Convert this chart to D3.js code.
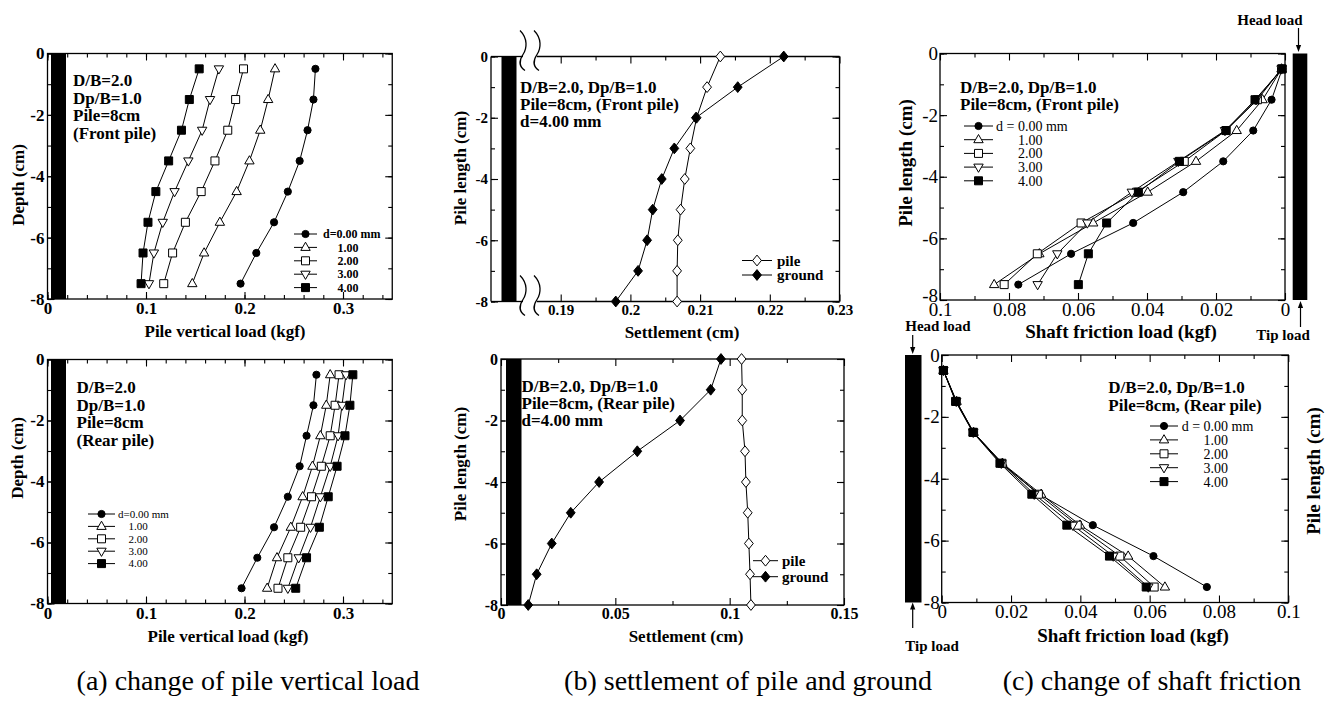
<!DOCTYPE html>
<html>
<head>
<meta charset="utf-8">
<script src="https://cdn.jsdelivr.net/npm/d3@7"></script>
<style>
  body { margin: 0; background: #fff; }
  svg { display: block; }
</style>
</head>
<body>
<svg id="fig" width="1330" height="704"></svg>
<script>
// ---------------- data ----------------
// measuring stations along the pile (cm)
const midDepths  = [-0.5, -1.5, -2.5, -3.5, -4.5, -5.5, -6.5, -7.5];
const nodeDepths = [0, -1, -2, -3, -4, -5, -6, -7, -8];
const pileTop = 0, pileTip = -8;

// lateral ground displacement d (mm) and marker used for each
const shiftLabels = ["0.00", "1.00", "2.00", "3.00", "4.00"];
const shiftMarkers = ["circle", "triangle", "square", "triangleDown", "squareFill"];

// (a) pile vertical load (kgf)
const frontLoad = [
  [0.272, 0.270, 0.264, 0.256, 0.244, 0.230, 0.212, 0.196],
  [0.231, 0.224, 0.216, 0.205, 0.192, 0.175, 0.159, 0.147],
  [0.199, 0.191, 0.183, 0.170, 0.156, 0.140, 0.127, 0.118],
  [0.174, 0.165, 0.157, 0.143, 0.129, 0.117, 0.108, 0.103],
  [0.154, 0.144, 0.136, 0.123, 0.110, 0.102, 0.097, 0.095]
];
const rearLoad = [
  [0.273, 0.270, 0.263, 0.256, 0.244, 0.230, 0.213, 0.197],
  [0.287, 0.283, 0.277, 0.269, 0.259, 0.247, 0.233, 0.223],
  [0.296, 0.292, 0.287, 0.278, 0.268, 0.257, 0.244, 0.234],
  [0.303, 0.299, 0.295, 0.287, 0.277, 0.267, 0.255, 0.244],
  [0.310, 0.307, 0.302, 0.294, 0.285, 0.276, 0.263, 0.252]
];

// (b) settlement of pile and ground at d = 4.00 mm (cm)
const frontPileSettle   = [0.2129, 0.2110, 0.2095, 0.2086, 0.2078, 0.2072, 0.2068, 0.2067, 0.2067];
const frontGroundSettle = [0.2220, 0.2154, 0.2094, 0.2063, 0.2045, 0.2032, 0.2024, 0.2011, 0.1979];
const rearPileSettle    = [0.1052, 0.1055, 0.1055, 0.1067, 0.1071, 0.1079, 0.1084, 0.1089, 0.1093];
const rearGroundSettle  = [0.0962, 0.0917, 0.0783, 0.0596, 0.0429, 0.0305, 0.0222, 0.0156, 0.0119];

// (c) shaft friction load (kgf)
const frontFriction = [
  [0.0008, 0.0039, 0.0092, 0.0179, 0.0295, 0.0440, 0.0620, 0.0773],
  [0.0010, 0.0065, 0.0140, 0.0258, 0.0398, 0.0556, 0.0712, 0.0843],
  [0.0010, 0.0080, 0.0171, 0.0292, 0.0430, 0.0591, 0.0718, 0.0814],
  [0.0010, 0.0084, 0.0174, 0.0309, 0.0444, 0.0573, 0.0660, 0.0717],
  [0.0008, 0.0087, 0.0171, 0.0306, 0.0425, 0.0517, 0.0570, 0.0599]
];
const rearFriction = [
  [0.0005, 0.0041, 0.0091, 0.0171, 0.0282, 0.0436, 0.0611, 0.0765],
  [0.0005, 0.0043, 0.0092, 0.0175, 0.0287, 0.0399, 0.0538, 0.0644],
  [0.0005, 0.0042, 0.0092, 0.0174, 0.0279, 0.0391, 0.0514, 0.0613],
  [0.0005, 0.0042, 0.0091, 0.0172, 0.0267, 0.0378, 0.0495, 0.0596],
  [0.0005, 0.0040, 0.0090, 0.0168, 0.0260, 0.0361, 0.0484, 0.0590]
];

// tick labels
const depthTicks      = [0, -2, -4, -6, -8];
const loadTicks       = [0, 0.1, 0.2, 0.3];
const frontSettleTicks = [0.19, 0.2, 0.21, 0.22, 0.23];
const rearSettleTicks  = [0, 0.05, 0.1, 0.15];
const frictionTicks   = [0, 0.02, 0.04, 0.06, 0.08, 0.1];

// ---------------- drawing helpers ----------------
const svg = d3.select("#fig");
const serif = '"Liberation Serif","Times New Roman",Times,serif';
const fmtNum = v => (Math.abs(v) < 1e-9 ? "0" : String(+v.toFixed(3)));
const minorOf = (lo, hi, step) => d3.range(Math.round((hi - lo) / step) + 1).map(i => +(lo + i * step).toFixed(4));

function markerPath(kind) {
  switch (kind) {
    case "circle": return d3.symbol(d3.symbolCircle, Math.PI * 3.6 * 3.6)();
    case "triangle": return "M0,-5.2L4.7,3L-4.7,3Z";
    case "triangleDown": return "M0,5.2L4.7,-3L-4.7,-3Z";
    case "square": case "squareFill": return "M-4,-4H4V4H-4Z";
    case "diamond": case "diamondFill": return "M0,-5.4L4.4,0L0,5.4L-4.4,0Z";
  }
}
const isFilled = k => k === "circle" || k === "squareFill" || k === "diamondFill";

function marker(g, kind, cx, cy) {
  g.append("path")
    .attr("d", markerPath(kind))
    .attr("transform", `translate(${cx},${cy})`)
    .attr("fill", isFilled(kind) ? "#000" : "#fff")
    .attr("stroke", "#000").attr("stroke-width", 1);
}

function series(g, x, y, xs, ys) {
  const pts = xs.map((v, i) => [x(v), y(ys[i])]);
  g.append("path").attr("d", d3.line()(pts))
    .attr("fill", "none").attr("stroke", "#000").attr("stroke-width", 1);
  return pts;
}

function text(g, str, x, y, o = {}) {
  return g.append("text")
    .attr("x", x).attr("y", y)
    .attr("font-family", serif)
    .attr("font-size", o.size || 17)
    .attr("font-weight", o.weight || "bold")
    .attr("text-anchor", o.anchor || "start")
    .attr("fill", "#000")
    .text(str);
}

function vtext(g, str, cx, cy, o = {}) {
  g.append("text")
    .attr("transform", `translate(${cx},${cy}) rotate(-90)`)
    .attr("dy", "0.35em")
    .attr("font-family", serif)
    .attr("font-size", o.size || 17)
    .attr("font-weight", o.weight || "bold")
    .attr("text-anchor", "middle")
    .attr("fill", "#000")
    .text(str);
}

// axis ticks on all four sides, pointing inward; labels on bottom and left
function ticks(g, x, y, o) {
  const [yt, yb] = y.range();
  const xs = x.range(), xl = Math.min(...xs), xr = Math.max(...xs);
  const put = (gen, tr, labelled) => {
    const a = g.append("g").attr("transform", tr).call(gen);
    a.select(".domain").remove();
    a.attr("font-family", null).attr("font-size", null);
    a.selectAll("line").attr("stroke", "#000").attr("stroke-width", 1.1);
    a.selectAll("text").attr("font-family", serif).attr("font-size", o.fs)
      .attr("font-weight", o.fw).attr("fill", "#000");
    if (!labelled) a.selectAll("text").remove();
    return a;
  };
  const M = 7, m = 4;
  put(d3.axisBottom(x).tickValues(o.xMajor).tickSize(-M).tickPadding(o.pad).tickFormat(fmtNum), `translate(0,${yb})`, true);
  put(d3.axisBottom(x).tickValues(o.xMinor).tickSize(-m), `translate(0,${yb})`, false);
  put(d3.axisTop(x).tickValues(o.xMajor).tickSize(-M), `translate(0,${yt})`, false);
  put(d3.axisTop(x).tickValues(o.xMinor).tickSize(-m), `translate(0,${yt})`, false);
  const yMinor = minorOf(-8, 0, 1);
  const left = put(d3.axisLeft(y).tickValues(depthTicks).tickSize(-M).tickPadding(o.ypad || 3).tickFormat(fmtNum), `translate(${xl},0)`, true);
  // the lowest depth label sits a little higher so it clears the corner value
  if (o.liftBottom) left.selectAll("text").filter(d => d === -8).attr("dy", "0.1em");
  put(d3.axisLeft(y).tickValues(yMinor).tickSize(-m), `translate(${xl},0)`, false);
  put(d3.axisRight(y).tickValues(depthTicks).tickSize(-M), `translate(${xr},0)`, false);
  put(d3.axisRight(y).tickValues(yMinor).tickSize(-m), `translate(${xr},0)`, false);
}

function frame(g, x, y) {
  const [yt, yb] = y.range();
  const xs = x.range(), xl = Math.min(...xs), xr = Math.max(...xs);
  g.append("rect").attr("x", xl).attr("y", yt).attr("width", xr - xl).attr("height", yb - yt)
    .attr("fill", "none").attr("stroke", "#000").attr("stroke-width", 1.3);
}

function pileBar(g, x0, y, w) {
  g.append("rect").attr("x", x0).attr("y", y(pileTop))
    .attr("width", w).attr("height", y(pileTip) - y(pileTop)).attr("fill", "#000");
}

function legend(g, rows, o) {
  rows.forEach((r, i) => {
    const cy = o.y0 + i * o.dy;
    g.append("line").attr("x1", o.x1).attr("x2", o.x2).attr("y1", cy).attr("y2", cy)
      .attr("stroke", "#000").attr("stroke-width", 1);
    marker(g, r.kind, (o.x1 + o.x2) / 2, cy);
    text(g, r.label, i === 0 || !o.indent ? o.tx : o.tx + o.indent, cy, { size: o.fs, weight: o.fw })
      .attr("dy", "0.35em");
  });
}

function arrow(g, x, y1, y2) {
  const dir = Math.sign(y2 - y1);
  g.append("line").attr("x1", x).attr("x2", x).attr("y1", y1).attr("y2", y2 - dir * 5)
    .attr("stroke", "#000").attr("stroke-width", 1.2);
  g.append("path").attr("d", `M${x},${y2}L${x - 2.6},${y2 - dir * 7}L${x + 2.6},${y2 - dir * 7}Z`).attr("fill", "#000");
}

function annotate(g, lines, x, y0, dy) {
  lines.forEach((s, i) => text(g, s, x, y0 + i * dy, { size: 17 }));
}

const shiftRows = (first) => shiftLabels.map((s, i) => ({
  kind: shiftMarkers[i], label: i === 0 ? first : s
}));

// ---------------- (a) pile vertical load ----------------
function loadPanel(rows, yTop, yBot, info, leg) {
  const g = svg.append("g");
  const x = d3.scaleLinear().domain([0, 0.35]).range([47.5, 392.25]);
  const y = d3.scaleLinear().domain([0, -8]).range([yTop, yBot]);
  frame(g, x, y);
  ticks(g, x, y, { xMajor: loadTicks, xMinor: minorOf(0, 0.34, 0.02), fs: 17, fw: "bold", pad: 3 });
  pileBar(g, x(0) + 3.5, y, 15);
  const pts = rows.map(r => series(g, x, y, r, midDepths));
  pts.forEach((p, i) => p.forEach(q => marker(g, shiftMarkers[i], q[0], q[1])));
  annotate(g, info.lines, info.x, info.y0, 17.5);
  legend(g, shiftRows(leg.first), leg);
  return { g, x, y };
}

const aTop = loadPanel(frontLoad, 53.5, 299,
  { lines: ["D/B=2.0", "Dp/B=1.0", "Pile=8cm", "(Front pile)"], x: 73, y0: 86 },
  { first: "d=0.00 mm", x1: 294, x2: 317, tx: 323, indent: 14.6, y0: 234, dy: 13.4, fs: 12, fw: "bold" });
vtext(aTop.g, "Depth (cm)", 18, 185);
text(aTop.g, "Pile vertical load (kgf)", 225, 337, { anchor: "middle" });

const aBot = loadPanel(rearLoad, 359.5, 603.5,
  { lines: ["D/B=2.0", "Dp/B=1.0", "Pile=8cm", "(Rear pile)"], x: 76.5, y0: 393 },
  { first: "d=0.00 mm", x1: 88, x2: 115, tx: 118, indent: 10.5, y0: 514, dy: 12.4, fs: 11, fw: "normal" });
vtext(aBot.g, "Depth (cm)", 17, 458);
text(aBot.g, "Pile vertical load (kgf)", 228, 642, { anchor: "middle" });

// ---------------- (b) settlement ----------------
function breakMark(g, x, yc) {
  g.append("path")
    .attr("d", `M${x - 3},${yc - 22} C${x + 5},${yc - 14} ${x + 4},${yc - 4} ${x},${yc + 2} C${x - 4},${yc + 8} ${x - 4},${yc + 14} ${x + 2},${yc + 18}`)
    .attr("fill", "none").attr("stroke", "#000").attr("stroke-width", 1.3);
}

{
  const g = svg.append("g");
  const x = d3.scaleLinear().domain([0.18, 0.23]).range([491, 839.5]);
  const y = d3.scaleLinear().domain([0, -8]).range([56.5, 301.5]);
  const [yt, yb] = y.range();
  const xl = 491, xr = 839.5, gapL = 523, gapR = 537;
  // broken frame: left and right sides, top and bottom interrupted by the axis break
  [[xl, yt, xl, yb], [xr, yt, xr, yb], [xl, yt, gapL, yt], [gapR, yt, xr, yt], [xl, yb, gapL, yb], [gapR, yb, xr, yb]]
    .forEach(d => g.append("line").attr("x1", d[0]).attr("y1", d[1]).attr("x2", d[2]).attr("y2", d[3])
      .attr("stroke", "#000").attr("stroke-width", 1.3));
  ticks(g, x, y, { xMajor: frontSettleTicks, xMinor: minorOf(0.195, 0.225, 0.01), fs: 15, fw: "bold", pad: 3 });
  pileBar(g, 501.5, y, 15);
  [gapL, gapR].forEach(bx => { breakMark(g, bx, yt - 4); breakMark(g, bx, yb - 4); });
  const p1 = series(g, x, y, frontPileSettle, nodeDepths);
  const p2 = series(g, x, y, frontGroundSettle, nodeDepths);
  p1.forEach(q => marker(g, "diamond", q[0], q[1]));
  p2.forEach(q => marker(g, "diamondFill", q[0], q[1]));
  annotate(g, ["D/B=2.0, Dp/B=1.0", "Pile=8cm, (Front pile)", "d=4.00 mm"], 520, 92.5, 17.3);
  legend(g, [{ kind: "diamond", label: "pile" }, { kind: "diamondFill", label: "ground" }],
    { x1: 742, x2: 772, tx: 777, y0: 260.5, dy: 14.5, fs: 15, fw: "bold" });
  vtext(g, "Pile length (cm)", 460, 168);
  text(g, "Settlement (cm)", 682, 338, { anchor: "middle" });
}

{
  const g = svg.append("g");
  const x = d3.scaleLinear().domain([0, 0.15]).range([501, 844]);
  const y = d3.scaleLinear().domain([0, -8]).range([359, 605]);
  frame(g, x, y);
  ticks(g, x, y, { xMajor: rearSettleTicks, xMinor: minorOf(0.025, 0.125, 0.05), fs: 16, fw: "bold", pad: 3 });
  pileBar(g, 506, y, 15.5);
  const p1 = series(g, x, y, rearPileSettle, nodeDepths);
  const p2 = series(g, x, y, rearGroundSettle, nodeDepths);
  p1.forEach(q => marker(g, "diamond", q[0], q[1]));
  p2.forEach(q => marker(g, "diamondFill", q[0], q[1]));
  annotate(g, ["D/B=2.0, Dp/B=1.0", "Pile=8cm, (Rear pile)", "d=4.00 mm"], 521.5, 391.7, 17.2);
  legend(g, [{ kind: "diamond", label: "pile" }, { kind: "diamondFill", label: "ground" }],
    { x1: 753, x2: 778, tx: 782, y0: 560.7, dy: 16, fs: 15, fw: "bold" });
  vtext(g, "Pile length (cm)", 460, 464);
  text(g, "Settlement (cm)", 686, 642, { anchor: "middle" });
}

// ---------------- (c) shaft friction ----------------
function frictionPanel(rows, xDomain, xRange, yRange, info, leg, lift) {
  const g = svg.append("g");
  const x = d3.scaleLinear().domain(xDomain).range(xRange);
  const y = d3.scaleLinear().domain([0, -8]).range(yRange);
  frame(g, x, y);
  ticks(g, x, y, { xMajor: frictionTicks, xMinor: minorOf(0.01, 0.09, 0.02), fs: 19, fw: "normal", pad: 2, ypad: 2, liftBottom: lift });
  const pts = rows.map(r => series(g, x, y, r, midDepths));
  pts.forEach((p, i) => p.forEach(q => marker(g, shiftMarkers[i], q[0], q[1])));
  annotate(g, info.lines, info.x, info.y0, 17.3);
  legend(g, shiftRows("d = 0.00 mm"), leg);
  return { g, x, y };
}

const cTop = frictionPanel(frontFriction, [0.1, 0], [940, 1285], [53.5, 300],
  { lines: ["D/B=2.0, Dp/B=1.0", "Pile=8cm, (Front pile)"], x: 960, y0: 92.7 },
  { x1: 964, x2: 993, tx: 996, indent: 21.9, y0: 126, dy: 13.7, fs: 14, fw: "normal" }, true);
pileBar(cTop.g, 1292.7, cTop.y, 14.6);
vtext(cTop.g, "Pile length (cm)", 905, 163, { size: 19 });
text(cTop.g, "Shaft friction load (kgf)", 1121, 338, { anchor: "middle", size: 19 });
text(cTop.g, "Head load", 1270, 25, { anchor: "middle", size: 15 });
arrow(cTop.g, 1298.5, 28, 52);
text(cTop.g, "Tip load", 1283, 340, { anchor: "middle", size: 15 });
arrow(cTop.g, 1300.5, 327, 301);

const cBot = frictionPanel(rearFriction, [0, 0.1], [941.7, 1288.3], [355, 602.5],
  { lines: ["D/B=2.0, Dp/B=1.0", "Pile=8cm, (Rear pile)"], x: 1108.3, y0: 393.3 },
  { x1: 1150, x2: 1178, tx: 1181.7, indent: 21.9, y0: 426, dy: 13.9, fs: 14, fw: "normal" }, false);
pileBar(cBot.g, 905, cBot.y, 16.5);
vtext(cBot.g, "Pile length (cm)", 1313, 471, { size: 19 });
text(cBot.g, "Shaft friction load (kgf)", 1133, 642, { anchor: "middle", size: 19 });
text(cBot.g, "Head load", 938, 331, { anchor: "middle", size: 15 });
arrow(cBot.g, 912.7, 335, 354);
text(cBot.g, "Tip load", 932, 651, { anchor: "middle", size: 15 });
arrow(cBot.g, 912.7, 628, 602.5);

// ---------------- captions ----------------
const captions = [
  ["(a) change of pile vertical load", 248],
  ["(b) settlement of pile and ground", 748],
  ["(c) change of shaft friction", 1152]
];
captions.forEach(([s, cx]) => text(svg, s, cx, 690, { anchor: "middle", size: 28, weight: "normal" }));
</script>
</body>
</html>
